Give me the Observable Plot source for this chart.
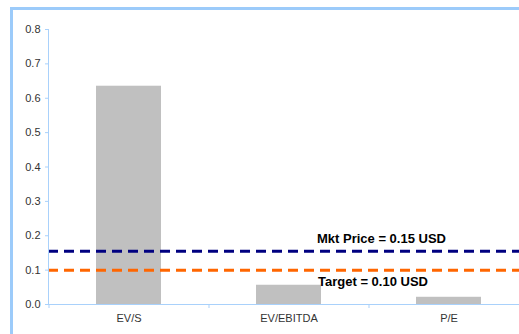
<!DOCTYPE html>
<html><head><meta charset="utf-8">
<script src="https://cdn.jsdelivr.net/npm/d3@7"></script>
<script src="https://cdn.jsdelivr.net/npm/@observablehq/plot@0.6"></script>
<style>
html,body{margin:0;padding:0;background:#fff;}
#wrap{position:relative;width:519px;height:334px;overflow:hidden;}
#border{position:absolute;left:10px;top:7px;width:600px;height:400px;border-left:3px solid #9ccbfa;border-top:3px solid #9ccbfa;pointer-events:none;}
</style></head>
<body>
<div id="wrap"><div id="chart"></div><div id="border"></div></div>
<script>
const categories = ["EV/S", "EV/EBITDA", "P/E"];
const values = [0.635, 0.056, 0.021];
const yTicks = [0, 0.1, 0.2, 0.3, 0.4, 0.5, 0.6, 0.7, 0.8];
const refLabels = ["Mkt Price = 0.15 USD", "Target = 0.10 USD"];
const refValues = [0.155, 0.10];
const refColors = ["#000080", "#ff6600"];

const bars = categories.map((c, i) => ({cat: c, v: values[i]}));
const refs = refLabels.map((l, i) => ({label: l, v: refValues[i], color: refColors[i]}));
const axisBlue = "#a9d1fb";
const font = "'Liberation Sans', Arial, sans-serif";

const chart = Plot.plot({
  width: 519, height: 334,
  marginLeft: 48, marginRight: 0, marginTop: 29, marginBottom: 30,
  style: {fontFamily: font, fontSize: "11px", color: "#333", background: "transparent"},
  x: {type: "band", domain: categories, range: [48, 528], paddingInner: 0.594, paddingOuter: 0.297, label: null},
  y: {domain: [0, 0.8], label: null},
  marks: [
    Plot.barY(bars, {x: "cat", y: "v", fill: "#c0c0c0"}),
    Plot.ruleY(refs, {y: "v", stroke: "color", strokeWidth: 3, strokeDasharray: "10,6"}),
    Plot.text(refs.slice(0, 1), {x: () => categories[1], y: "v", text: "label", textAnchor: "start", lineAnchor: "bottom", dx: 28, dy: -8, fontWeight: "bold", fontSize: 13, fill: "#000"}),
    Plot.text(refs.slice(1), {x: () => categories[1], y: "v", text: "label", textAnchor: "start", lineAnchor: "bottom", dx: 29, dy: 16, fontWeight: "bold", fontSize: 13, fill: "#000"}),
    Plot.frame({anchor: "left", stroke: axisBlue}),
    Plot.frame({anchor: "bottom", stroke: axisBlue}),
    Plot.ruleX(categories, {x: d => d, dx: -80, y1: 0, y2: 0, insetBottom: -4, stroke: axisBlue}),
    Plot.axisY({ticks: yTicks, tickFormat: d3.format(".1f"), tickSize: 3, tickPadding: 5, stroke: axisBlue, fill: "#333", label: null}),
    Plot.axisX({tickSize: 0, tickPadding: 10, fill: "#333", label: null})
  ]
});
document.getElementById("chart").appendChild(chart);
</script>
</body></html>
